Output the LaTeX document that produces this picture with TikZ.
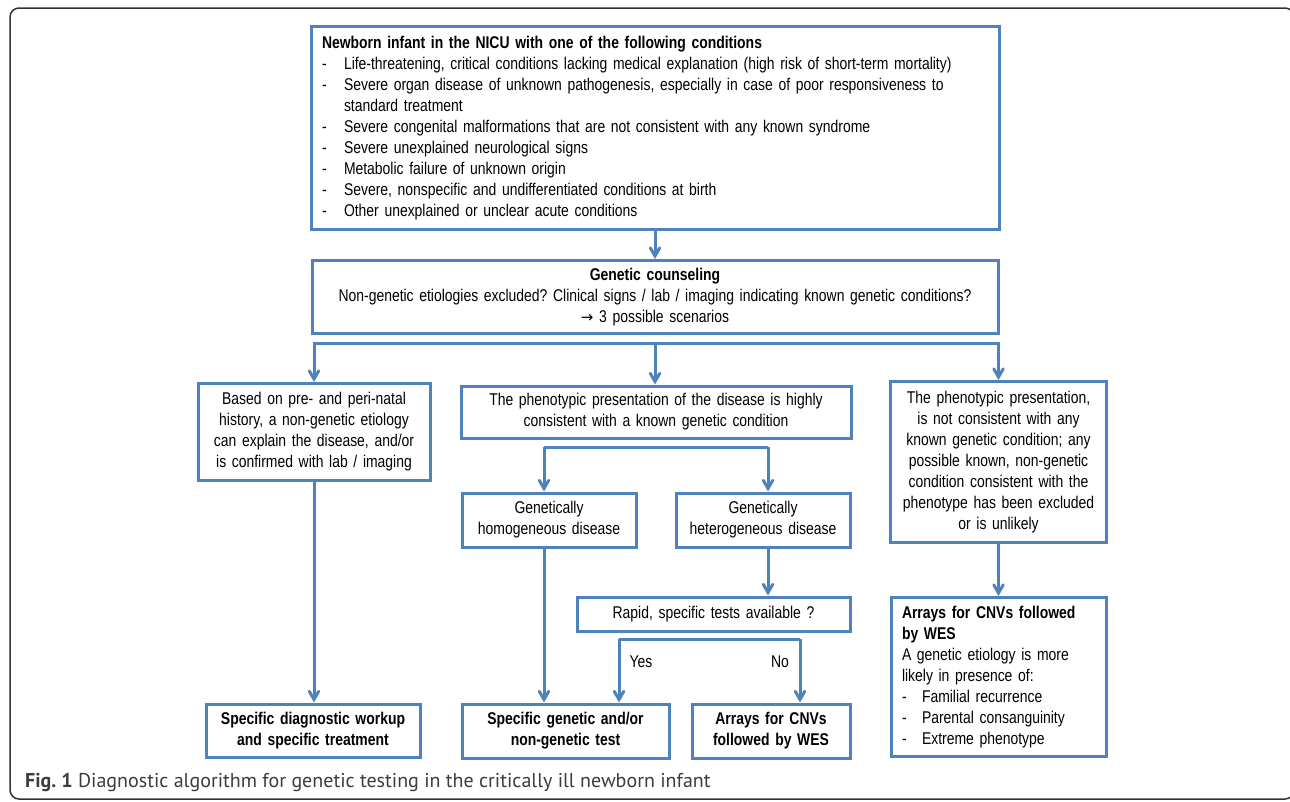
\documentclass[tikz,border=0pt]{standalone}
\usepackage{fontspec}
\setmainfont{Liberation Sans}[FakeStretch=0.82]
\newfontfamily\capfont{PT Sans}
\newfontfamily\arrowfont{DejaVu Sans}
\usetikzlibrary{arrows}
\definecolor{flowblue}{RGB}{79,129,189}
\definecolor{framegray}{RGB}{50,50,50}
\definecolor{capgray}{RGB}{60,60,60}
\newcommand{\dashitem}[1][22pt]{\makebox[#1][l]{-}}
\frenchspacing

\begin{document}
\begin{tikzpicture}[x=1pt,y=-1pt,>=angle 60,
	box/.style={draw=flowblue,line width=3pt,inner sep=0pt,align=center,
		font=\fontsize{17}{21}\selectfont},
	bbox/.style={box,font=\fontsize{17}{21}\selectfont\bfseries},
	lbox/.style={box,align=left,inner xsep=11pt},
	flow/.style={draw=flowblue,line width=3pt},
	lbl/.style={font=\fontsize{17}{21}\selectfont,inner sep=0pt}]
	\useasboundingbox (0,0) rectangle (1290,801);
	\draw[framegray,line width=1.5pt,rounded corners=9pt] (10,8) rectangle (1294,799);

	% top of the algorithm
	\node[lbox,text width=666pt,minimum height=203pt] (nicu) at (655,128)
		{{\bfseries Newborn infant in the NICU with one of the following conditions}\\
		 \dashitem Life-threatening, critical conditions lacking medical explanation (high risk of short-term mortality)\\
		 \dashitem Severe organ disease of unknown pathogenesis, especially in case of poor responsiveness to\\
		 \hspace*{22pt}standard treatment\\
		 \dashitem Severe congenital malformations that are not consistent with any known syndrome\\
		 \dashitem Severe unexplained neurological signs\\
		 \dashitem Metabolic failure of unknown origin\\
		 \dashitem Severe, nonspecific and undifferentiated conditions at birth\\
		 \dashitem Other unexplained or unclear acute conditions};
	\node[box,text width=686pt,minimum height=73pt] (couns) at (655,297)
		{{\bfseries Genetic counseling}\\
		 Non-genetic etiologies excluded? Clinical signs / lab / imaging indicating known genetic conditions?\\
		 {\arrowfont\fontsize{15}{21}\selectfont →} 3 possible scenarios};

	% three scenarios
	\node[box,text width=232pt,minimum height=97pt] (nongen) at (314,432)
		{Based on pre- and peri-natal\\ history, a non-genetic etiology\\ can explain the disease, and/or\\ is confirmed with lab / imaging};
	\node[box,text width=390pt,minimum height=52pt] (consist) at (656,412)
		{The phenotypic presentation of the disease is highly\\ consistent with a known genetic condition};
	\node[box,text width=216pt,minimum height=161pt] (notcons) at (998.5,462)
		{The phenotypic presentation,\\ is not consistent with any\\ known genetic condition; any\\ possible known, non-genetic\\ condition consistent with the\\ phenotype has been excluded\\ or is unlikely};
	\node[box,text width=174pt,minimum height=54pt] (homo) at (549,520)
		{Genetically\\ homogeneous disease};
	\node[box,text width=174pt,minimum height=54pt] (hetero) at (763,520)
		{Genetically\\ heterogeneous disease};
	\node[box,text width=273pt,minimum height=34pt] (rapid) at (713.5,614)
		{Rapid, specific tests available ?};

	% outcomes
	\node[bbox,text width=214pt,minimum height=53pt] (workup) at (313,730.5)
		{Specific diagnostic workup\\ and specific treatment};
	\node[bbox,text width=207pt,minimum height=54pt] (spectest) at (565.5,731)
		{Specific genetic and/or\\ non-genetic test};
	\node[bbox,text width=158pt,minimum height=54pt] (arrays) at (771,731)
		{Arrays for CNVs\\ followed by WES};
	\node[lbox,text width=193pt,minimum height=159pt] (wes) at (998.5,677)
		{{\bfseries Arrays for CNVs followed\\ by WES}\\
		 A genetic etiology is more\\ likely in presence of:\\
		 \dashitem[20pt]Familial recurrence\\
		 \dashitem[20pt]Parental consanguinity\\
		 \dashitem[20pt]Extreme phenotype};

	\node[lbl] (yes) at (641,662) {Yes};
	\node[lbl] (no)  at (780,662) {No};

	\coordinate (fork1)  at (655,343);
	\coordinate (homoin) at (544,447);
	\coordinate (hetin)  at (768,447);
	\coordinate (yesend) at (619,639);
	\coordinate (noend)  at (800,639);

	\draw[flow]
		(nicu) edge[->] (couns)
		(fork1) edge[->] (fork1 |- consist.north)
		(nongen) edge[->] (nongen |- workup.north)
		(homoin) edge[->] (homoin |- homo.north)
		(hetin) edge[->] (hetin |- hetero.north)
		(homo.south -| homoin) edge[->] (homoin |- spectest.north)
		(hetero.south -| hetin) edge[->] (hetin |- rapid.north)
		(notcons) edge[->] (wes)
		(yesend) edge[->] (yesend |- spectest.north)
		(noend) edge[->] (noend |- arrays.north);
	\draw[flow,->] (fork1) -| (nongen);
	\draw[flow,->] (fork1) -| (notcons);
	\draw[flow] (homoin) -- (hetin);
	\draw[flow] (yesend) -- (noend);

	\node[anchor=base west,inner sep=0pt,text=capgray,font=\capfont\fontsize{20}{24}\selectfont] (caption) at (25,787)
		{\textbf{Fig. 1} Diagnostic algorithm for genetic testing in the critically ill newborn infant};
\end{tikzpicture}
\end{document}
